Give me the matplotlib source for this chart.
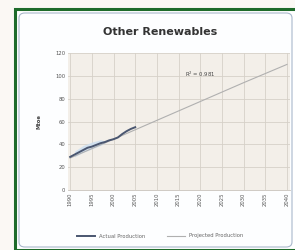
import matplotlib
matplotlib.use("Agg")
import matplotlib.pyplot as plt
from matplotlib.patches import Rectangle, FancyBboxPatch

# Data
actual_years = [1990, 1991, 1992, 1993, 1994, 1995, 1996, 1997, 1998, 1999,
                2000, 2001, 2002, 2003, 2004, 2005]
actual_vals = [29, 31, 33, 35, 37, 38, 39.5, 41, 42, 43.5,
               44.5, 46, 49, 51.5, 53.5, 55]
proj_years = [1990, 2000, 2010, 2020, 2030, 2040]
proj_vals = [28, 44.5, 61, 77.5, 94, 110]
band_years = [1991, 1993, 1995, 1997, 1998]
band_low = [29, 33, 36, 39, 41]
band_high = [34, 39, 42, 44, 43]
x_ticks = [1990, 1995, 2000, 2005, 2010, 2015, 2020, 2025, 2030, 2035, 2040]
y_ticks = [0, 20, 40, 60, 80, 100, 120]
title = "Other Renewables"
y_label = "Mtoe"
r2_text = "R$^2$ = 0.981"

W, H = 295, 250
fig = plt.figure(figsize=(W / 100, H / 100), dpi=100)
fig.patch.set_facecolor("#fbf8f4")

# green frame
fig.patches.append(Rectangle((15 / W, 0.0), 1.0, 1 - 9 / H, transform=fig.transFigure,
                             facecolor="#ffffff", edgecolor="#1e6b2a", linewidth=2.2, zorder=-10))
# inner panel
fig.patches.append(FancyBboxPatch((19 / W, 3 / H), 273 / W, 1 - 16 / H,
                                  boxstyle="round,pad=0,rounding_size=0.02",
                                  transform=fig.transFigure, facecolor="#fdfeff",
                                  edgecolor="#aab8cc", linewidth=0.8, zorder=-9))

ax = fig.add_axes([68 / W, 1 - 190 / H, 222 / W, 137 / H])
ax.set_zorder(5)
ax.set_facecolor("#f3efe9")
ax.set_xlim(1989.5, 2040.7)
ax.set_ylim(0, 120)
ax.set_xticks(x_ticks)
ax.set_yticks(y_ticks)
ax.set_xticklabels([str(v) for v in x_ticks], rotation=90, fontsize=3.8, color="#555555")
ax.set_yticklabels([str(v) for v in y_ticks], fontsize=3.8, color="#555555")
ax.tick_params(length=0, pad=2)
ax.grid(True, color="#d6d0c8", linewidth=0.6)
ax.set_axisbelow(True)
for s in ax.spines.values():
    s.set_visible(False)
ax.spines["bottom"].set_visible(True)
ax.spines["bottom"].set_color("#c8c2ba")
ax.spines["bottom"].set_linewidth(0.6)

ax.fill_between(band_years, band_low, band_high, color="#cfe0f0", alpha=0.9, linewidth=0)
lp, = ax.plot(proj_years, proj_vals, color="#b0b0b0", linewidth=0.8, label="Projected Production")
la, = ax.plot(actual_years, actual_vals, color="#4a5670", linewidth=1.4, label="Actual Production")

ax.text(2016.5, 101.5, r2_text, fontsize=3.8, color="#444444", ha="left", va="center")
ax.set_ylabel(y_label, fontsize=3.8, fontweight="bold", color="#444444", labelpad=10)

fig.text(160 / W, 1 - 32 / H, title, fontsize=8, fontweight="bold", color="#333333",
         ha="center", va="center")

fig.legend(handles=[la, lp], loc="center", bbox_to_anchor=(160 / W, 1 - 236 / H),
           ncol=2, frameon=False, fontsize=3.8, handlelength=3.5, columnspacing=4,
           labelcolor="#666666")

fig.savefig("out.png", dpi=100, facecolor=fig.get_facecolor())
